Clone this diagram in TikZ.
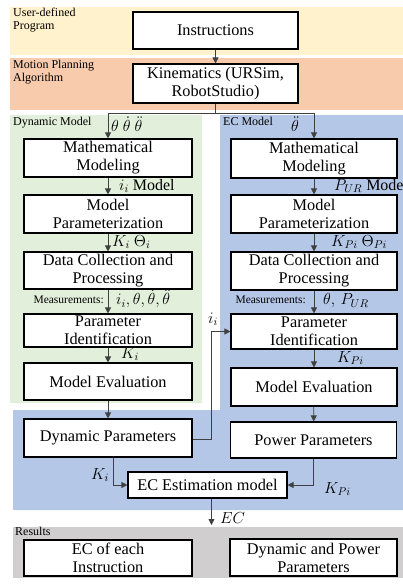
\RequirePackage{fix-cm}
\documentclass[tikz,border=0pt]{standalone}
\usepackage{fontspec}
\setmainfont{Liberation Serif}
\usetikzlibrary{arrows.meta}
\definecolor{cyel}{HTML}{FFF2CC}
\definecolor{corg}{HTML}{F8CBAD}
\definecolor{cgrn}{HTML}{E2EFDA}
\definecolor{cblu}{HTML}{B4C7E7}
\definecolor{cgry}{HTML}{D0CECE}
\definecolor{cline}{HTML}{404040}
\begin{document}
\begin{tikzpicture}[x=1pt,y=-1pt,
  box/.style={draw=black,line width=1.1pt,fill=white,align=center,inner sep=0pt,
    font=\fontsize{16.3}{18}\selectfont},
  lw/.style={box,minimum width=168pt},
  rw/.style={box,minimum width=166pt},
  band/.style={font=\fontsize{12}{13}\selectfont,align=left,inner sep=0pt,anchor=north west},
  small/.style={font=\fontsize{11.5}{13}\selectfont,inner sep=0pt},
  lab/.style={font=\fontsize{16}{18}\selectfont,inner sep=0pt,anchor=west},
  arr/.style={draw=cline,line width=0.8pt,-{Triangle[length=6pt,width=6pt]}},
  ln/.style={draw=cline,line width=0.8pt}]
\useasboundingbox (0,0) rectangle (403,586);
% bands
\fill[cyel] (10,7) rectangle (403,55);
\fill[corg] (10,58) rectangle (403,110);
\fill[cgrn] (10,115) rectangle (202,403);
\fill[cblu] (220,115) -- (403,115) -- (403,510) -- (13,510) -- (13,410) -- (220,410) -- cycle;
\fill[cgry] (13,527) rectangle (403,578);
% band labels
\node[band] (lu) at (13,8) {User-defined\\Program};
\node[band] (lm) at (13,60) {Motion Planning\\Algorithm};
\node[band] (ld) at (13,117) {Dynamic Model};
\node[band] (le) at (223,117) {EC Model};
\node[band] (lr) at (15,527) {Results};
% top boxes
\node[box,minimum width=165pt,minimum height=37pt] (ins) at (215.5,30.5) {Instructions};
\node[box,minimum width=165pt,minimum height=39pt] (kin) at (215.5,83.5) {Kinematics (URSim,\\RobotStudio)};
% left column
\node[lw,minimum height=38pt] (l1) at (108,158) {Mathematical\\Modeling};
\node[lw,minimum height=38pt] (l2) at (108,214) {Model\\Parameterization};
\node[lw,minimum height=37pt] (l3) at (108,270.5) {Data Collection and\\Processing};
\node[lw,minimum height=33pt] (l4) at (108,330.5) {Parameter\\Identification};
\node[lw,minimum height=37pt] (l5) at (108,381.5) {Model Evaluation};
\node[lw,minimum height=38pt] (l6) at (108,438) {Dynamic Parameters};
% right column
\node[rw,minimum height=39pt] (r1) at (314,158.5) {Mathematical\\Modeling};
\node[rw,minimum height=38pt] (r2) at (314,214) {Model\\Parameterization};
\node[rw,minimum height=38pt] (r3) at (314,271) {Data Collection and\\Processing};
\node[rw,minimum height=35pt] (r4) at (314,331.5) {Parameter\\Identification};
\node[rw,minimum height=38pt] (r5) at (314,387) {Model Evaluation};
\node[rw,minimum height=36pt] (r6) at (313.5,440) {Power Parameters};
% estimation and results
\node[box,minimum width=159pt,minimum height=26pt] (ec) at (207.5,485) {EC Estimation model};
\node[lw,minimum height=36pt] (res1) at (108,558) {EC of each\\Instruction};
\node[box,minimum width=167pt,minimum height=37pt] (res2) at (313.5,557.5) {Dynamic and Power\\Parameters};
% connectors
\coordinate (br) at (215.5,113);
\coordinate (ecend) at (211.5,525);
\draw[arr] (ins) -- (kin);
\draw[ln] (kin.south) -- (br);
\draw[arr] (br) -| (l1.north);
\draw[arr] (br) -| (r1.north);
\draw[arr] (l1) -- (l2);
\draw[arr] (l2) -- (l3);
\draw[arr] (l3) -- (l4);
\draw[arr] (l4) -- (l5);
\draw[arr] (l5) -- (l6);
\draw[arr] (r1) -- (r2);
\draw[arr] (r2) -- (r3);
\draw[arr] (r3) -- (r4);
\draw[arr] (r4) -- (r5);
\draw[arr] (r5) -- (r6);
\draw[arr] ([yshift=-1pt]l6.east) -- ++(19,0) |- (r4.west);
\draw[arr] ([xshift=5pt]l6.south) |- (ec.west);
\draw[arr] (r6.south) |- (ec.east);
\draw[arr] (ec.south -| ecend) -- (ecend);
% labels
\node[lab] (t1) at (111,124) {$\theta\ \dot\theta\ \ddot\theta$};
\node[lab] (t2) at (291,124) {$\ddot\theta$};
\node[lab] (t3) at (119,186) {$i_i$ Model};
\node[lab] (t4) at (334,186) {$P_{UR}$ Model};
\node[lab] (t5) at (112,242) {$K_i\ \Theta_i$};
\node[lab] (t6) at (331,242) {$K_{Pi}\ \Theta_{Pi}$};
\node[small,anchor=east] (m1) at (104,300) {Measurements:};
\node[lab] (t7) at (116,299) {$i_i,\theta,\dot\theta,\ddot\theta$};
\node[small,anchor=east] (m2) at (306,300) {Measurements:};
\node[lab] (t8) at (323,299) {$\dot\theta,\, P_{UR}$};
\node[lab] (t9) at (208,319) {$i_i$};
\node[lab] (t10) at (121,354) {$K_i$};
\node[lab] (t11) at (337,358) {$K_{Pi}$};
\node[lab] (t12) at (91,475) {$K_i$};
\node[lab] (t13) at (324,489) {$K_{Pi}$};
\node[lab] (t14) at (220,518) {$EC$};
\end{tikzpicture}
\end{document}
